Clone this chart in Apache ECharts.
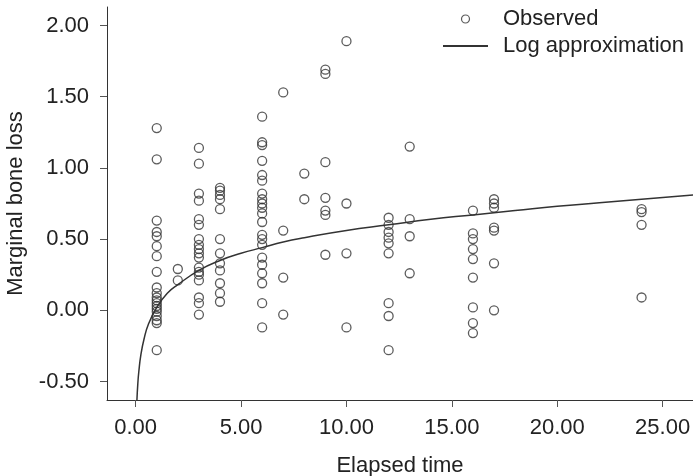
<!DOCTYPE html>
<html>
<head>
<meta charset="utf-8">
<script src="https://cdn.jsdelivr.net/npm/echarts@6/dist/echarts.min.js"></script>
<style>
  html, body { margin: 0; padding: 0; background: #fff; }
  #chart { width: 693px; height: 476px; }
</style>
</head>
<body>
<div id="chart"></div>
<script>
// observed points (elapsed time, marginal bone loss)
var obsTime = [
  1,1,1,1,1,1,1,1,1,1,1,1,1,1,1,1,1,1,1,1,
  2,2,
  3,3,3,3,3,3,3,3,3,3,3,3,3,3,3,3,3,3,
  4,4,4,4,4,4,4,4,4,4,4,4,
  6,6,6,6,6,6,6,6,6,6,6,6,6,6,6,6,6,6,6,6,6,
  7,7,7,7,
  8,8,
  9,9,9,9,9,9,9,
  10,10,10,10,
  12,12,12,12,12,12,12,12,12,
  13,13,13,13,
  16,16,16,16,16,16,16,16,16,
  17,17,17,17,17,17,17,
  24,24,24,24
];
var obsLoss = [
  1.28,1.06,0.63,0.55,0.52,0.45,0.38,0.27,0.16,0.12,0.09,0.07,0.05,0.03,0.01,-0.01,-0.04,-0.07,-0.09,-0.28,
  0.29,0.21,
  1.14,1.03,0.82,0.77,0.64,0.60,0.50,0.46,0.43,0.40,0.37,0.30,0.27,0.25,0.21,0.09,0.05,-0.03,
  0.86,0.84,0.81,0.78,0.71,0.50,0.40,0.33,0.28,0.19,0.12,0.06,
  1.36,1.18,1.16,1.05,0.95,0.91,0.82,0.78,0.75,0.72,0.68,0.62,0.53,0.50,0.46,0.37,0.32,0.26,0.19,0.05,-0.12,
  1.53,0.56,0.23,-0.03,
  0.96,0.78,
  1.69,1.66,1.04,0.79,0.70,0.67,0.39,
  1.89,0.75,0.40,-0.12,
  0.65,0.60,0.55,0.51,0.47,0.40,0.05,-0.04,-0.28,
  1.15,0.64,0.52,0.26,
  0.70,0.54,0.50,0.43,0.36,0.23,0.02,-0.09,-0.16,
  0.78,0.75,0.72,0.58,0.56,0.33,0.00,
  0.71,0.69,0.60,0.09
];
// log curve
var curveTime = [0.06,0.1,0.15,0.25,0.4,0.6,1,1.5,2,3,4,5,6,7,8,10,12,14,16,18,20,22,24,26.5];
var curveLoss = [-0.63,-0.52,-0.43,-0.31,-0.20,-0.10,0.02,0.12,0.18,0.28,0.35,0.40,0.44,0.48,0.51,0.56,0.60,0.64,0.67,0.70,0.73,0.755,0.78,0.81];

var xTicks = [0, 5, 10, 15, 20, 25];
var yTicks = [-0.5, 0, 0.5, 1, 1.5, 2];

var chart = echarts.init(document.getElementById("chart"));
var font = "Liberation Sans";

var scatterData = [];
for (var i = 0; i < obsTime.length; i++) {
  scatterData.push([obsTime[i], obsLoss[i]]);
}
var curveData = [];
for (var j = 0; j < curveTime.length; j++) {
  curveData.push([curveTime[j], curveLoss[j]]);
}

var option = {
  animation: false,
  backgroundColor: "#fff",
  grid: { left: 107, right: 0, top: 7, bottom: 76, outerBoundsMode: "none", containLabel: false },
  legend: {
    orient: "vertical",
    left: 437,
    top: 3,
    itemWidth: 45,
    itemHeight: 8,
    itemGap: 5,
    align: "left",
    textStyle: { fontFamily: font, fontSize: 22, color: "#222", padding: [0, 0, 0, 10] },
    data: [
      { name: "Observed", icon: "circle", itemStyle: { color: "#fff", borderColor: "#333", borderWidth: 1.2 } },
      { name: "Log approximation", itemStyle: { opacity: 0, color: "rgba(0,0,0,0)", borderWidth: 0 } }
    ]
  },
  xAxis: {
    type: "value",
    min: -1.36,
    max: 26.44,
    name: "Elapsed time",
    nameLocation: "middle",
    nameGap: 55,
    nameTextStyle: { fontFamily: font, fontSize: 22, color: "#222" },
    axisLine: { show: true, onZero: false, lineStyle: { color: "#333", width: 1 } },
    axisTick: { show: true, length: 7, customValues: xTicks, lineStyle: { color: "#555" } },
    axisLabel: {
      customValues: xTicks,
      fontFamily: font, fontSize: 22, color: "#222", margin: 17,
      formatter: function (v) { return v.toFixed(2); }
    },
    splitLine: { show: false }
  },
  yAxis: {
    type: "value",
    min: -0.63,
    max: 2.13,
    name: "Marginal bone loss",
    nameLocation: "middle",
    nameGap: 80,
    nameTextStyle: { fontFamily: font, fontSize: 22, color: "#222" },
    axisLine: { show: true, onZero: false, lineStyle: { color: "#333", width: 1 } },
    axisTick: { show: true, length: 7, customValues: yTicks, lineStyle: { color: "#555" } },
    axisLabel: {
      customValues: yTicks,
      fontFamily: font, fontSize: 22, color: "#222", margin: 18,
      formatter: function (v) { return v.toFixed(2); }
    },
    splitLine: { show: false }
  },
  series: [
    {
      name: "Observed",
      type: "scatter",
      symbol: "circle",
      symbolSize: 9,
      itemStyle: { color: "rgba(255,255,255,0)", borderColor: "#333", borderWidth: 1.3 },
      data: scatterData
    },
    {
      name: "Log approximation",
      type: "line",
      symbol: "none",
      smooth: true,
      clip: true,
      lineStyle: { color: "#333", width: 1.5 },
      itemStyle: { color: "#333" },
      data: curveData
    }
  ]
};

chart.setOption(option);
</script>
</body>
</html>
